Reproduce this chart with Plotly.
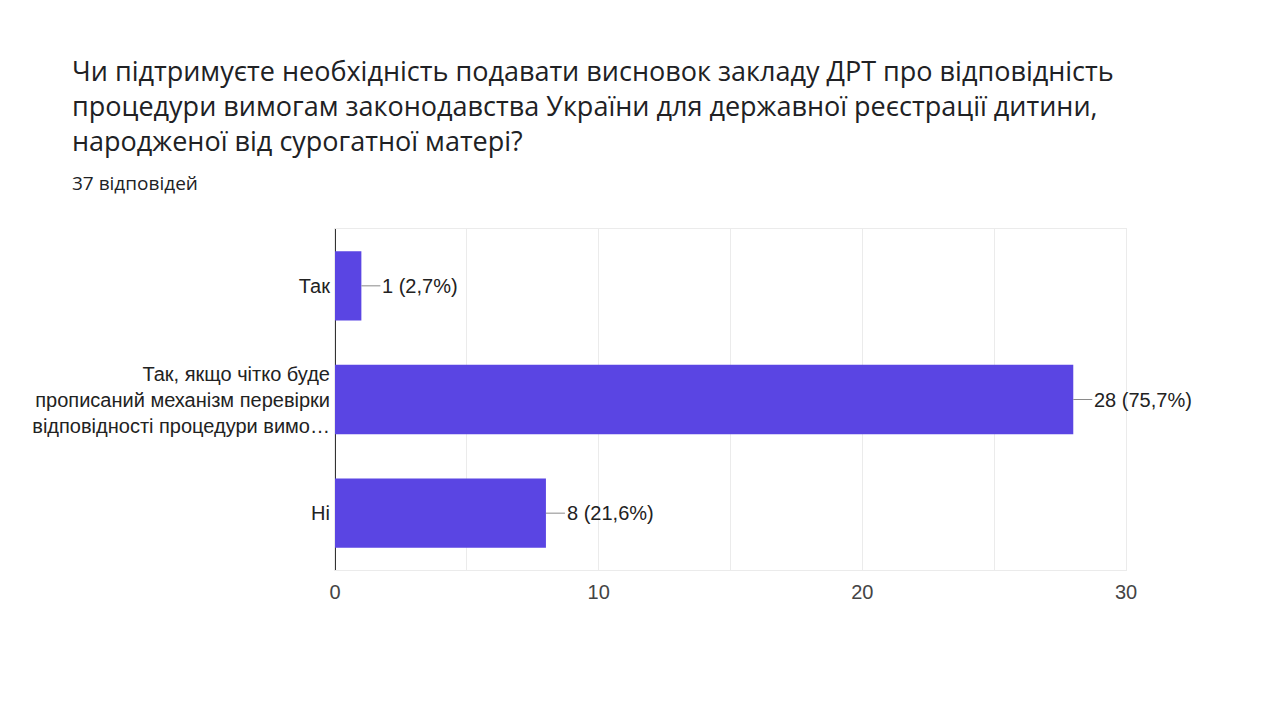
import plotly.graph_objects as go

title_lines = [
    'Чи підтримуєте необхідність подавати висновок закладу ДРТ про відповідність',
    'процедури вимогам законодавства України для державної реєстрації дитини,',
    'народженої від сурогатної матері?',
]
subtitle = '37 відповідей'
categories = [
    'Так',
    'Так, якщо чітко буде<br>прописаний механізм перевірки<br>відповідності процедури вимо…',
    'Ні',
]
counts = [1, 28, 8]
labels = ['1 (2,7%)', '28 (75,7%)', '8 (21,6%)']
tick_vals = [0, 5, 10, 15, 20, 25, 30]
tick_text = ['0', '', '10', '', '20', '', '30']

bar_color = '#5a45e3'
chart_font = 'Liberation Sans, Arial, sans-serif'
title_font = 'Open Sans, Noto Sans, sans-serif'

# page body has an 8px margin, so the plot box is set 8px up and left
L, R, T, B = 327, 162, 221, 158
W, H = 1280, 720
pw, ph = W - L - R, H - T - B


def px(x):
    return (x - L) / pw


def py(y):
    return 1 + (T - y) / ph


fig = go.Figure()
fig.add_trace(go.Bar(
    x=counts,
    y=categories,
    orientation='h',
    marker=dict(color=bar_color, line=dict(width=0)),
    width=0.61,
    hoverinfo='skip',
))

annotations = []
for c, cat, lab in zip(counts, categories, labels):
    annotations.append(dict(
        x=c, y=cat, xref='x', yref='y',
        text=lab, showarrow=True, arrowhead=0, arrowwidth=1,
        arrowcolor='#8a8a8a', ax=19, ay=0, xanchor='left',
        standoff=0, startstandoff=0,
        font=dict(family=chart_font, size=20, color='#222222'),
    ))

annotations.append(dict(
    text='<br>'.join(title_lines), xref='paper', yref='paper',
    showarrow=False, align='left',
    x=px(62), xanchor='left', y=py(98), yanchor='middle',
    font=dict(family=title_font, size=27, color='#202124'),
))
annotations.append(dict(
    text=subtitle, xref='paper', yref='paper', showarrow=False,
    x=px(62), xanchor='left', y=py(175), yanchor='middle',
    font=dict(family=title_font, size=19, color='#202124'),
))

fig.update_layout(
    width=W, height=H,
    margin=dict(l=L, r=R, t=T, b=B),
    paper_bgcolor='white', plot_bgcolor='white',
    showlegend=False,
    annotations=annotations,
    xaxis=dict(
        range=[0, 30], tickvals=tick_vals, ticktext=tick_text,
        showgrid=True, gridcolor='#ebebeb', gridwidth=1,
        zeroline=True, zerolinecolor='#333333', zerolinewidth=1.5,
        showline=True, linecolor='#ebebeb', mirror=True,
        ticks='', ticklabelstandoff=4,
        tickfont=dict(family=chart_font, size=20, color='#444444'),
    ),
    yaxis=dict(
        autorange='reversed', showgrid=False, zeroline=False,
        showline=True, linecolor='#ebebeb', mirror=True,
        ticks='', ticklabelstandoff=0,
        tickfont=dict(family=chart_font, size=20, color='#222222'),
    ),
)

fig.write_html('out.html')
